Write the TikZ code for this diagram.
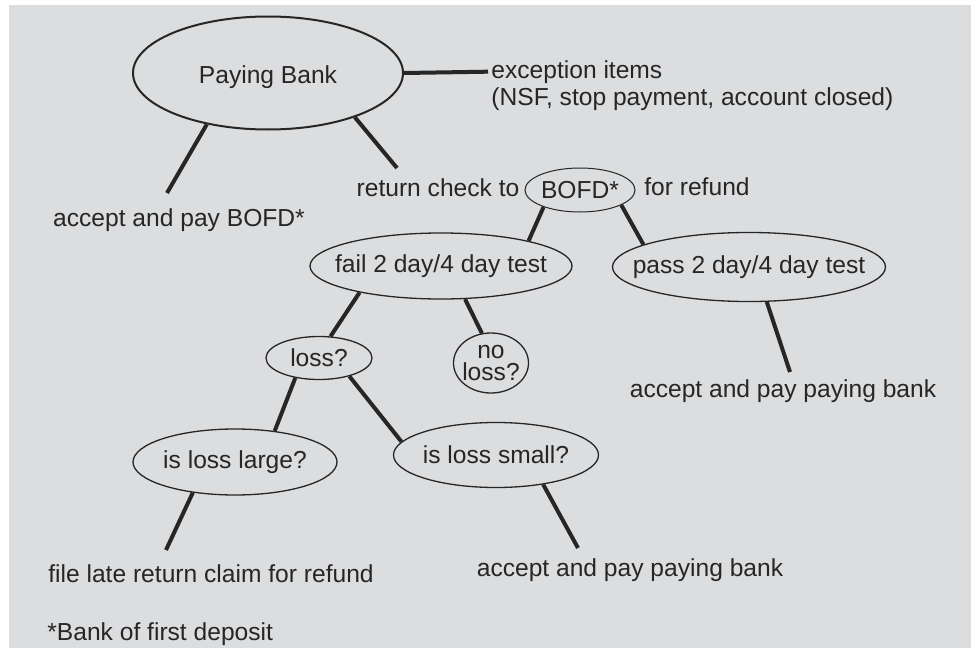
\documentclass[tikz,border=0pt]{standalone}
\usepackage{fontspec}
\setmainfont{Liberation Sans}
\usetikzlibrary{shapes.geometric}
\definecolor{panel}{RGB}{220,221,223}
\definecolor{ink}{RGB}{38,38,38}

\begin{document}
\begin{tikzpicture}[x=0.5pt, y=-0.5pt,
    font=\fontsize{12.3}{14}\selectfont, text=ink,
    bub/.style={ellipse, draw=ink, line width=0.65pt, inner sep=0pt},
    txt/.style={inner sep=0pt, anchor=base},
    branch/.style={draw=ink, line width=2pt}]
    \useasboundingbox (0,0) rectangle (971,648);
    \fill[panel] (9,5) rectangle (971,648);

    \node[bub, line width=1pt, minimum width=135pt, minimum height=56.5pt,
        label={[yshift=-2pt]center:Paying Bank}] (pb) at (268,73) {};
    \node[bub, line width=0.5pt, minimum width=55pt, minimum height=22pt,
        label=center:BOFD*] (bofd) at (580,190) {};
    \node[bub, minimum width=131pt, minimum height=33pt,
        label=center:fail 2 day/4 day test] (fail) at (441,266) {};
    \node[bub, minimum width=136.5pt, minimum height=34.5pt,
        label=center:pass 2 day/4 day test] (pass) at (749,267) {};
    \node[bub, minimum width=53pt, minimum height=21.5pt,
        label=center:loss?] (loss) at (319,358) {};
    \node[bub, minimum width=37.5pt, minimum height=30pt,
        label={[align=center, font=\fontsize{12.3}{11}\selectfont]center:no\\loss?}] (noloss) at (491,363) {};
    \node[bub, minimum width=102pt, minimum height=33pt,
        label=center:is loss large?] (large) at (235,462) {};
    \node[bub, minimum width=102.5pt, minimum height=32.5pt,
        label=center:is loss small?] (small) at (496,455) {};

    \node[txt, anchor=base west] (exc) at (491,78) {exception items};
    \node[txt, anchor=base west] (exc2) at (491,105) {(NSF, stop payment, account closed)};
    \node[txt] (acc1) at (179,226) {accept and pay BOFD*};
    \node[txt] (ret) at (438,196) {return check to};
    \node[txt] (refund) at (697,195) {for refund};
    \node[txt] (acc2) at (783,397) {accept and pay paying bank};
    \node[txt] (file) at (211,582) {file late return claim for refund};
    \node[txt] (acc3) at (630,576) {accept and pay paying bank};
    \node[txt, anchor=base west] (note) at (47,640) {*Bank of first deposit};

    \coordinate (e1) at (167,193);
    \coordinate (e2) at (397,168);
    \coordinate (e3) at (790,372);
    \coordinate (e4) at (166,550);
    \coordinate (e5) at (578,548);

    \draw[branch, shorten >=1.5pt] (pb.east) -- (exc.west);
    \draw[branch] (pb.220) -- (e1);
    \draw[branch] (pb.333) -- (e2);
    \draw[branch] (bofd.205) -- (fail.16);
    \draw[branch] (bofd.340) -- (pass.168);
    \draw[branch] (pass.297) -- (e3);
    \draw[branch] (fail.198) -- (loss.62);
    \draw[branch] (fail.306) -- (noloss.107);
    \draw[branch] (loss.220) -- (large.38);
    \draw[branch] (loss.329) -- (small.172);
    \draw[branch] (large.216) -- (e4);
    \draw[branch] (small.328) -- (e5);
\end{tikzpicture}
\end{document}
